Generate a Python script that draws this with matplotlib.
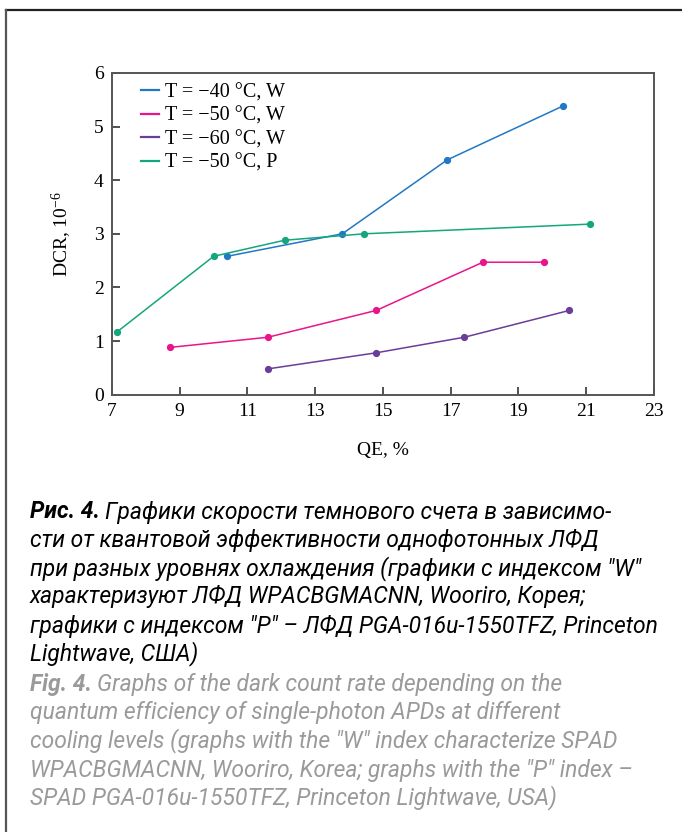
import matplotlib
matplotlib.use('Agg')
import matplotlib.pyplot as plt
from matplotlib import font_manager
from matplotlib.lines import Line2D

# data (QE in %, DCR in 1e-6)
qe_40w = [10.4, 13.8, 16.9, 20.3]
dcr_40w = [2.58, 3.0, 4.38, 5.38]
qe_50w = [8.7, 11.6, 14.8, 17.95, 19.75]
dcr_50w = [0.88, 1.07, 1.57, 2.47, 2.47]
qe_60w = [11.6, 14.8, 17.4, 20.5]
dcr_60w = [0.48, 0.78, 1.07, 1.57]
qe_50p = [7.15, 10.0, 12.1, 14.45, 21.1]
dcr_50p = [1.17, 2.58, 2.88, 3.0, 3.18]

labels = ['T = \u221240 \u00b0C, W', 'T = \u221250 \u00b0C, W',
          'T = \u221260 \u00b0C, W', 'T = \u221250 \u00b0C, P']
colors = ['#2178c4', '#e8158b', '#6a3d9a', '#14a67c']
xticks = [7, 9, 11, 13, 15, 17, 19, 21, 23]
yticks = [0, 1, 2, 3, 4, 5, 6]

caption_ru = ['\u0413\u0440\u0430\u0444\u0438\u043a\u0438 \u0441\u043a\u043e\u0440\u043e\u0441\u0442\u0438 \u0442\u0435\u043c\u043d\u043e\u0432\u043e\u0433\u043e \u0441\u0447\u0435\u0442\u0430 \u0432 \u0437\u0430\u0432\u0438\u0441\u0438\u043c\u043e-',
              '\u0441\u0442\u0438 \u043e\u0442 \u043a\u0432\u0430\u043d\u0442\u043e\u0432\u043e\u0439 \u044d\u0444\u0444\u0435\u043a\u0442\u0438\u0432\u043d\u043e\u0441\u0442\u0438 \u043e\u0434\u043d\u043e\u0444\u043e\u0442\u043e\u043d\u043d\u044b\u0445 \u041b\u0424\u0414',
              '\u043f\u0440\u0438 \u0440\u0430\u0437\u043d\u044b\u0445 \u0443\u0440\u043e\u0432\u043d\u044f\u0445 \u043e\u0445\u043b\u0430\u0436\u0434\u0435\u043d\u0438\u044f (\u0433\u0440\u0430\u0444\u0438\u043a\u0438 \u0441 \u0438\u043d\u0434\u0435\u043a\u0441\u043e\u043c "W"',
              '\u0445\u0430\u0440\u0430\u043a\u0442\u0435\u0440\u0438\u0437\u0443\u044e\u0442 \u041b\u0424\u0414 WPACBGMACNN, Wooriro, \u041a\u043e\u0440\u0435\u044f;',
              '\u0433\u0440\u0430\u0444\u0438\u043a\u0438 \u0441 \u0438\u043d\u0434\u0435\u043a\u0441\u043e\u043c "P" \u2013 \u041b\u0424\u0414 PGA-016u-1550TFZ, Princeton',
              'Lightwave, \u0421\u0428\u0410)']
caption_en = ['Graphs of the dark count rate depending on the',
              'quantum efficiency of single-photon APDs at different',
              'cooling levels (graphs with the "W" index characterize SPAD',
              'WPACBGMACNN, Wooriro, Korea; graphs with the "P" index \u2013',
              'SPAD PGA-016u-1550TFZ, Princeton Lightwave, USA)']

installed = set(f.name for f in font_manager.fontManager.ttflist)
cap_font = 'DejaVu Sans'
for name in ['Roboto', 'Lato', 'Open Sans']:
    if name in installed:
        cap_font = name
        break

plt.rcParams['font.family'] = ['Liberation Serif', 'DejaVu Serif']
plt.rcParams['mathtext.fontset'] = 'custom'
plt.rcParams['mathtext.rm'] = 'Liberation Serif'
plt.rcParams['mathtext.it'] = 'Liberation Serif:italic'

fig = plt.figure(figsize=(6.82, 8.32), dpi=100)
ax = fig.add_axes([0.1642, 0.5257, 0.7947, 0.3866])

series = [(qe_40w, dcr_40w), (qe_50w, dcr_50w), (qe_60w, dcr_60w), (qe_50p, dcr_50p)]
for (x, y), c, lab in zip(series, colors, labels):
    ax.plot(x, y, color=c, lw=1.1, marker='o', ms=4.2, label=lab)

ax.set_xlim(7, 23)
ax.set_ylim(0, 6)
ax.set_xticks(xticks)
ax.set_yticks(yticks)
ax.tick_params(direction='in', length=6, width=1.2, colors='#333333',
               labelsize=14, labelcolor='black', pad=6)
for s in ax.spines.values():
    s.set_color('#555555')
    s.set_linewidth(1.4)
ax.set_xlabel('QE, %', fontsize=14, labelpad=16)
ax.set_ylabel('DCR, 10$^{-6}$', fontsize=14, labelpad=14)

handles = [Line2D([], [], color=c, lw=1.6) for c in colors]
ax.legend(handles, labels, loc='upper left', frameon=False, fontsize=14.5,
          handlelength=0.9, handletextpad=0.3, labelspacing=0.22,
          bbox_to_anchor=(0.02, 1.025))

# frame around the figure (right and bottom edges are cut off)
fig.add_artist(Line2D([6 / 682, 1.0], [1 - 10 / 832, 1 - 10 / 832],
                      transform=fig.transFigure, color='#222222', lw=1.6))
fig.add_artist(Line2D([6 / 682, 6 / 682], [1 - 10 / 832, 0.0],
                      transform=fig.transFigure, color='#555555', lw=1.6))

# caption
fs = 16.5
x0 = 30 / 682
renderer = fig.canvas.get_renderer()
y_ru = [512, 540, 569, 597, 626, 654]
y_en = [685, 713, 741, 770, 798]
for i, (line, yy) in enumerate(zip(caption_ru, y_ru)):
    yf = 1 - yy / 832
    xx = x0
    if i == 0:
        t = fig.text(x0, yf, '\u0420\u0438\u0441. 4.', family=cap_font, style='italic',
                     weight='bold', fontsize=fs, va='center', color='black')
        bb = t.get_window_extent(renderer)
        xx = (bb.x1 + 5) / 682
    fig.text(xx, yf, line, family=cap_font, style='italic', fontsize=fs,
             va='center', color='black')
for i, (line, yy) in enumerate(zip(caption_en, y_en)):
    yf = 1 - yy / 832
    xx = x0
    if i == 0:
        t = fig.text(x0, yf, 'Fig. 4.', family=cap_font, style='italic',
                     weight='bold', fontsize=fs, va='center', color='#9a9a9a')
        bb = t.get_window_extent(renderer)
        xx = (bb.x1 + 5) / 682
    fig.text(xx, yf, line, family=cap_font, style='italic', fontsize=fs,
             va='center', color='#9a9a9a')

fig.savefig('out.png', dpi=100)
